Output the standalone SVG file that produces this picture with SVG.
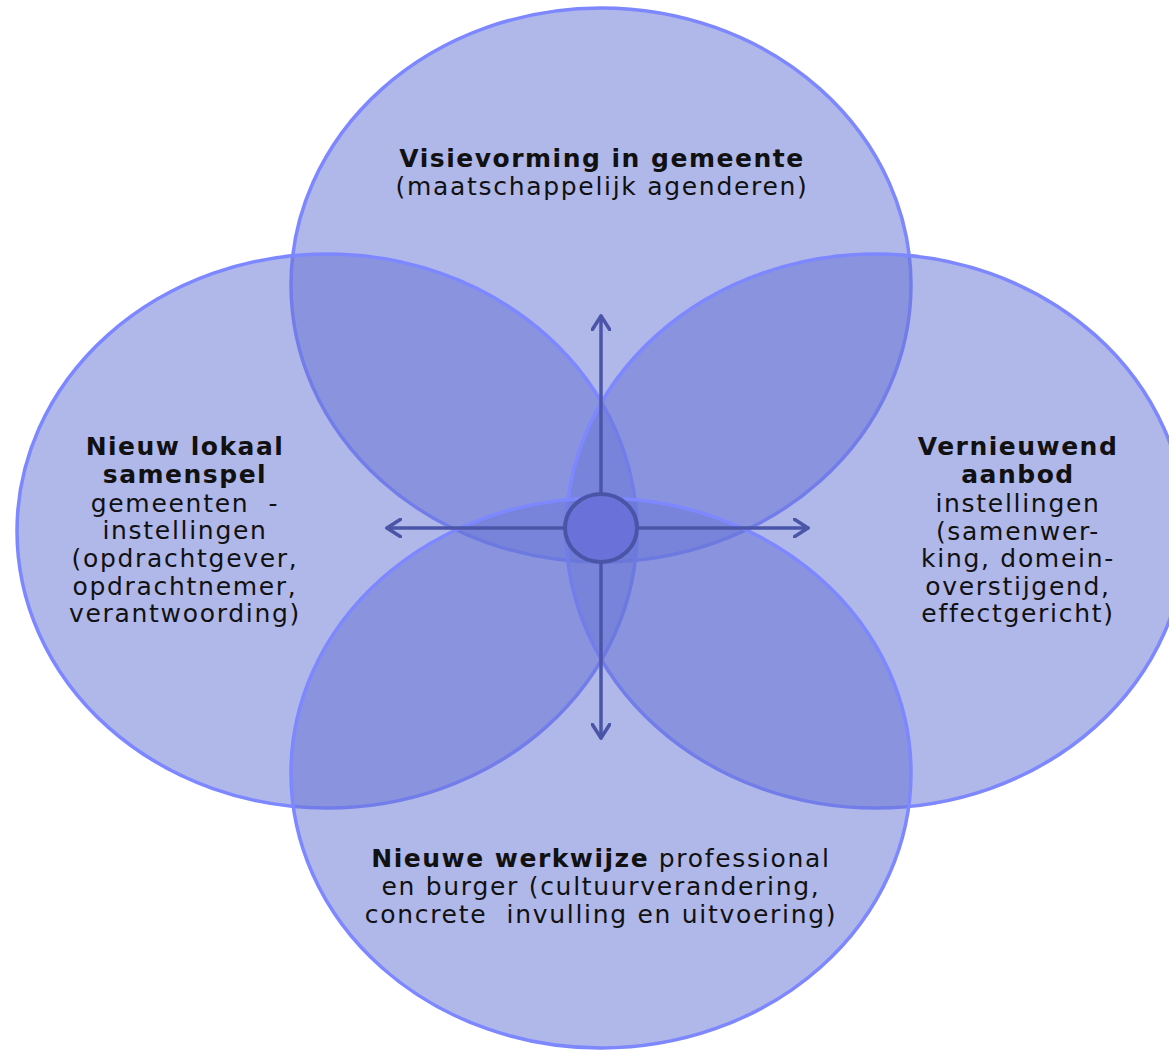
<svg xmlns="http://www.w3.org/2000/svg" width="1169" height="1050" viewBox="0 0 1169 1050">
<defs>
<style>
.petal{fill:#6775d5;fill-opacity:0.52;stroke:#7d87ff;stroke-width:3.5}
.arrow{stroke:#4b55a8;stroke-width:3.5;fill:none;stroke-linecap:round;stroke-linejoin:round}
.t{font-family:"DejaVu Sans","Liberation Sans",sans-serif;font-size:25px;fill:#111;text-anchor:middle;letter-spacing:1.7px}
.b{font-weight:bold;letter-spacing:1.5px}
</style>
<marker id="head" viewBox="0 0 20 20" refX="15" refY="10" markerWidth="20" markerHeight="20" markerUnits="userSpaceOnUse" orient="auto">
<polyline points="1,1 15,10 1,19" fill="none" stroke="#4b55a8" stroke-width="3.5" stroke-linecap="round" stroke-linejoin="round"/>
</marker>
</defs>
<rect width="1169" height="1050" fill="#ffffff"/>
<g id="node-top"><ellipse class="petal" cx="601" cy="285" rx="310" ry="277"/></g>
<g id="node-left"><ellipse class="petal" cx="327" cy="531" rx="310" ry="277"/></g>
<g id="node-right"><ellipse class="petal" cx="876" cy="531" rx="310" ry="277"/></g>
<g id="node-bottom"><ellipse class="petal" cx="601" cy="773" rx="310" ry="275"/></g>
<g id="connectors">
<line class="arrow" x1="601" y1="528" x2="601" y2="316" marker-end="url(#head)"/>
<line class="arrow" x1="601" y1="528" x2="601" y2="738" marker-end="url(#head)"/>
<line class="arrow" x1="601" y1="528" x2="387" y2="528" marker-end="url(#head)"/>
<line class="arrow" x1="601" y1="528" x2="808" y2="528" marker-end="url(#head)"/>
</g>
<g id="node-center"><ellipse cx="601" cy="528" rx="36" ry="34" fill="#6a72d9" stroke="#4b55a8" stroke-width="4"/></g>
<g id="label-top">
<text class="t b" x="602" y="167">Visievorming in gemeente</text>
<text class="t" x="602" y="195">(maatschappelijk agenderen)</text>
</g>
<g id="label-left">
<text class="t b" x="185" y="455">Nieuw lokaal</text>
<text class="t b" x="185" y="483">samenspel</text>
<text class="t" x="185" y="512" xml:space="preserve">gemeenten  -</text>
<text class="t" x="185" y="539">instellingen</text>
<text class="t" x="185" y="567">(opdrachtgever,</text>
<text class="t" x="185" y="595">opdrachtnemer,</text>
<text class="t" x="185" y="622">verantwoording)</text>
</g>
<g id="label-right">
<text class="t b" x="1018" y="455">Vernieuwend</text>
<text class="t b" x="1018" y="483">aanbod</text>
<text class="t" x="1018" y="512">instellingen</text>
<text class="t" x="1018" y="540">(samenwer-</text>
<text class="t" x="1018" y="567">king, domein-</text>
<text class="t" x="1018" y="595">overstijgend,</text>
<text class="t" x="1018" y="622">effectgericht)</text>
</g>
<g id="label-bottom">
<text class="t" x="601" y="867"><tspan class="b">Nieuwe werkwijze</tspan> professional</text>
<text class="t" x="601" y="895">en burger (cultuurverandering,</text>
<text class="t" x="601" y="923" xml:space="preserve">concrete  invulling en uitvoering)</text>
</g>
</svg>
